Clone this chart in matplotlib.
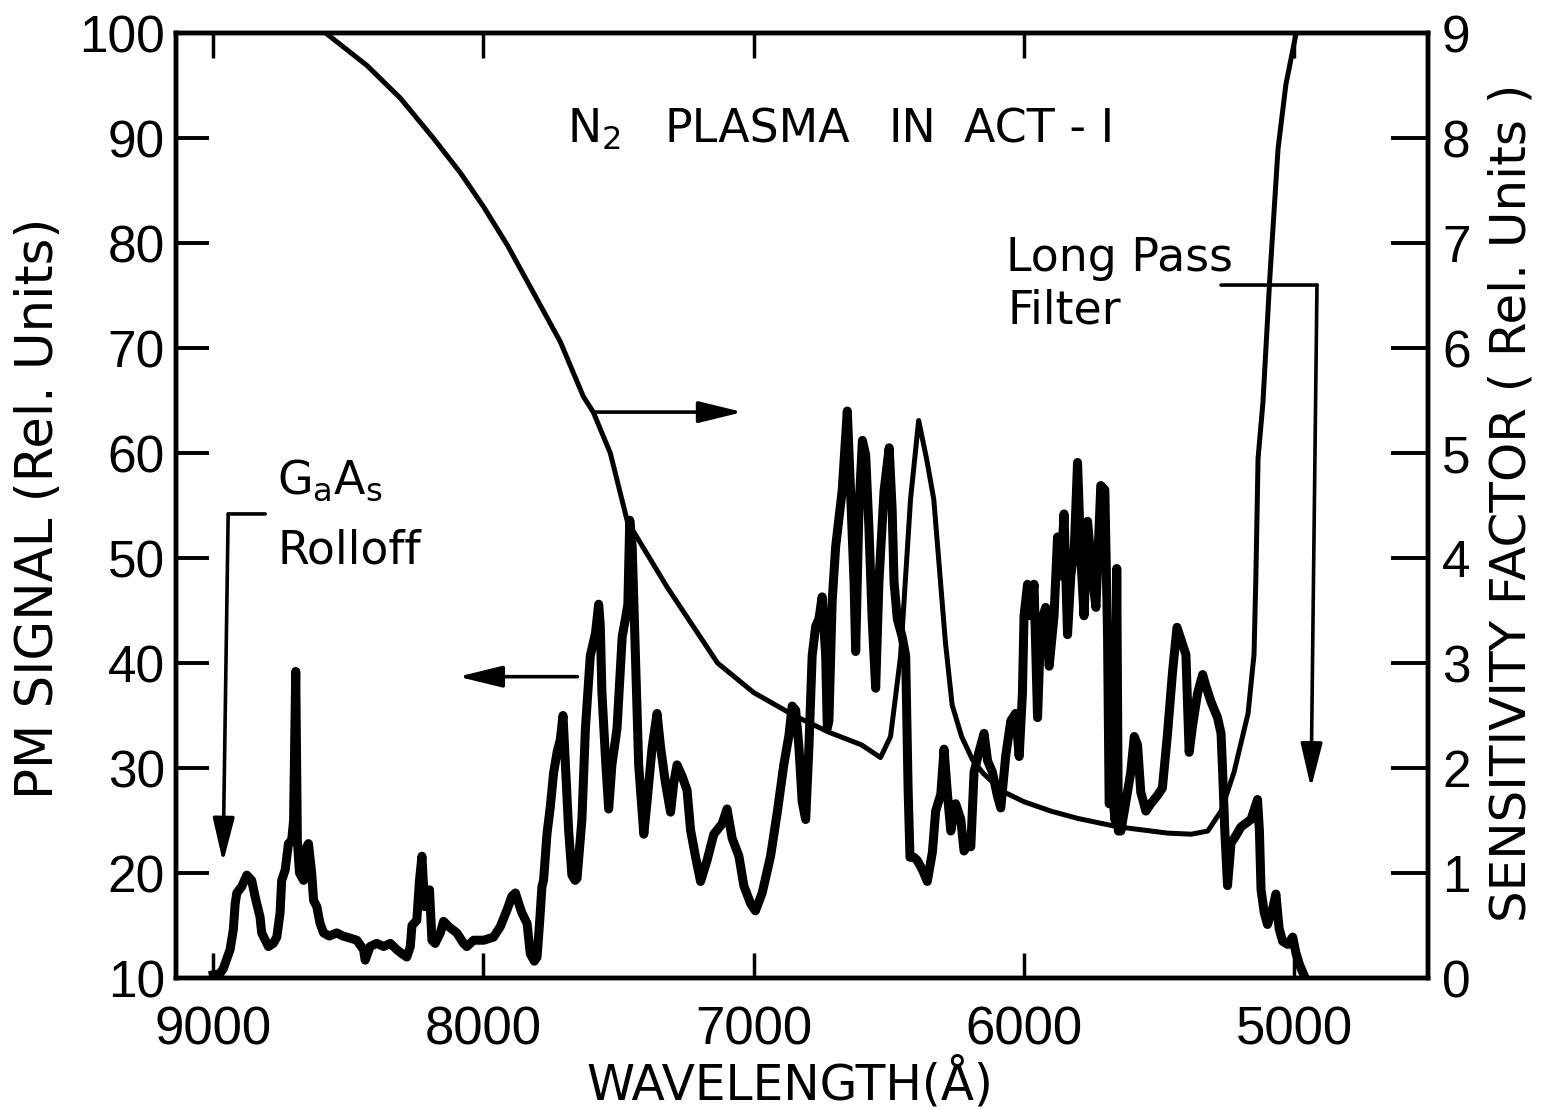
import numpy as np
import matplotlib.pyplot as plt

plt.rcParams['font.family'] = ['DejaVu Sans']

# PM signal (left axis)
wl_signal = [8999, 8975, 8962, 8937, 8925, 8918, 8912, 8894, 8875, 8857, 8844, 8826, 8820,
             8795, 8777, 8764, 8752, 8746, 8733, 8721, 8709, 8702, 8694, 8688, 8680, 8665,
             8653, 8647, 8635, 8628, 8616, 8604, 8591, 8570, 8542, 8520, 8505, 8468, 8443,
             8437, 8419, 8394, 8369, 8344, 8320, 8300, 8283, 8270, 8264, 8246, 8236, 8227,
             8217, 8209, 8199, 8190, 8178, 8159, 8147, 8128, 8098, 8073, 8061, 8036, 7999,
             7962, 7937, 7912, 7894, 7881, 7869, 7857, 7838, 7826, 7811, 7801, 7791, 7783,
             7777, 7764, 7752, 7740, 7727, 7715, 7705, 7696, 7684, 7672, 7660, 7653, 7635,
             7622, 7604, 7585, 7573, 7567, 7561, 7548, 7536, 7524, 7505, 7486, 7474, 7465,
             7458, 7449, 7437, 7425, 7406, 7394, 7375, 7357, 7344, 7326, 7307, 7295, 7283,
             7264, 7246, 7233, 7215, 7196, 7172, 7147, 7116, 7098, 7079, 7054, 7036, 7011,
             6993, 6968, 6937, 6912, 6888, 6869, 6857, 6844, 6832, 6820, 6807, 6795, 6783,
             6770, 6758, 6746, 6733, 6727, 6721, 6709, 6696, 6672, 6653, 6641, 6628, 6622,
             6610, 6597, 6585, 6573, 6561, 6548, 6536, 6517, 6498, 6487, 6480, 6468, 6450,
             6437, 6428, 6421, 6406, 6394, 6375, 6357, 6338, 6326, 6307, 6295, 6283, 6270,
             6252, 6233, 6221, 6203, 6196, 6184, 6166, 6147, 6134, 6116, 6098, 6085, 6067,
             6048, 6030, 6017, 6005, 5999, 5986, 5974, 5962, 5949, 5937, 5919, 5906, 5888,
             5875, 5863, 5851, 5838, 5826, 5813, 5801, 5789, 5777, 5764, 5746, 5733, 5715,
             5700, 5690, 5684, 5672, 5662, 5656, 5650, 5641, 5628, 5604, 5591, 5579, 5567,
             5548, 5530, 5505, 5487, 5468, 5449, 5433, 5419, 5400, 5388, 5375, 5357, 5338,
             5326, 5307, 5283, 5270, 5264, 5256, 5246, 5233, 5221, 5196, 5159, 5135, 5128,
             5122, 5110, 5098, 5079, 5067, 5055, 5042, 5023, 5005, 4993, 4980, 4962]
pm_signal = [10.3, 10.4, 10.9, 12.7, 14.6, 17.1, 18.1, 18.7, 19.8, 19.3, 17.7, 15.8, 14.3,
             13.0, 13.3, 13.9, 16.2, 19.3, 20.3, 22.8, 23.1, 25.0, 39.2, 23.1, 20.0, 19.3,
             22.5, 22.8, 20.0, 17.4, 16.8, 15.2, 14.3, 14.0, 14.3, 14.0, 13.9, 13.6, 12.7,
             11.7, 13.0, 13.3, 13.0, 13.3, 12.7, 12.3, 12.0, 13.0, 15.0, 15.5, 19.3, 21.6,
             16.8, 18.1, 18.4, 13.6, 13.3, 14.3, 15.4, 14.9, 14.3, 13.3, 13.0, 13.6, 13.6,
             13.9, 14.9, 16.5, 17.8, 18.1, 17.1, 16.2, 15.2, 12.3, 11.6, 12.0, 15.5, 18.7,
             19.3, 23.8, 26.3, 29.5, 31.5, 32.7, 35.0, 30.3, 24.0, 19.8, 19.3, 19.5, 25.1,
             33.8, 40.7, 42.8, 45.6, 43.5, 37.2, 31.0, 26.1, 30.3, 33.8, 42.5, 44.2, 45.6,
             53.6, 51.1, 40.7, 30.3, 23.7, 26.8, 32.0, 35.2, 32.0, 28.6, 25.8, 28.6, 30.3,
             29.2, 27.9, 24.1, 21.6, 19.2, 21.2, 23.7, 24.7, 26.1, 23.3, 21.6, 18.8, 17.1,
             16.4, 18.1, 21.6, 25.8, 30.3, 33.1, 35.9, 35.5, 32.0, 26.8, 25.1, 32.0, 40.7,
             43.5, 44.2, 46.3, 40.7, 33.8, 34.5, 45.9, 51.1, 56.4, 64.0, 56.4, 47.7, 41.1,
             54.6, 61.2, 59.8, 52.9, 44.2, 37.6, 47.7, 56.4, 60.5, 54.6, 47.7, 44.2, 42.5,
             40.7, 28.0, 21.5, 21.5, 21.2, 20.3, 19.2, 22.0, 25.9, 27.5, 31.8, 27.7, 24.0,
             26.6, 25.1, 22.1, 22.9, 22.5, 29.6, 31.5, 33.3, 30.7, 29.6, 27.4, 26.2, 31.1,
             34.5, 35.2, 31.1, 37.1, 44.5, 47.5, 44.5, 47.5, 34.8, 43.8, 45.3, 39.7, 44.5,
             52.0, 48.3, 54.2, 42.7, 48.3, 50.9, 59.1, 50.1, 44.5, 53.5, 48.3, 45.3, 56.9,
             56.5, 42.7, 26.6, 27.7, 25.0, 49.0, 24.0, 24.0, 25.9, 29.6, 33.0, 32.2, 27.7,
             25.9, 26.6, 27.4, 28.1, 33.3, 39.3, 43.4, 42.3, 40.8, 31.5, 34.1, 37.1, 38.9,
             37.8, 36.3, 34.8, 33.3, 29.6, 24.0, 18.8, 22.9, 23.3, 24.4, 25.1, 27.0, 24.0,
             18.4, 16.2, 15.1, 16.6, 18.0, 14.7, 13.5, 13.2, 13.9, 12.4, 11.3, 10.2]

# sensitivity factor (right axis)
wl_sens = [8578, 8430, 8307, 8185, 8085, 8000, 7911, 7815, 7715, 7630, 7593, 7530, 7467,
           7319, 7133, 7000, 6850, 6720, 6600, 6530, 6493, 6456, 6419, 6389, 6360, 6333,
           6290, 6265, 6230, 6190, 6150, 6080, 6000, 5900, 5800, 5652, 5467, 5380, 5319,
           5270, 5222, 5170, 5148, 5141, 5133, 5115, 5089, 5059, 5030, 4992]
sens = [8.99, 8.69, 8.38, 8.00, 7.67, 7.35, 6.98, 6.53, 6.06, 5.54, 5.39, 5.00, 4.35,
        3.72, 3.00, 2.72, 2.50, 2.34, 2.22, 2.10, 2.30, 3.06, 4.56, 5.31, 4.95, 4.56,
        3.20, 2.60, 2.30, 2.08, 1.95, 1.78, 1.68, 1.59, 1.52, 1.44, 1.38, 1.37, 1.40,
        1.59, 1.96, 2.52, 3.08, 3.83, 4.95, 5.48, 6.69, 7.90, 8.51, 9.0]

x_ticks = [9000, 8000, 7000, 6000, 5000]
left_ticks = list(range(10, 101, 10))
right_ticks = list(range(0, 10))

fig = plt.figure(figsize=(15.44, 11.09), dpi=100)
ax = fig.add_axes([0.114, 0.1181, 0.8109, 0.8521])
ax2 = ax.twinx()

ax.plot(wl_signal, pm_signal, color='black', lw=6.5, solid_joinstyle='round')
ax2.plot(wl_sens, sens, color='black', lw=3.6)

ax.set_xlim(9137, 4504)
ax.set_ylim(10, 100)
ax2.set_ylim(0, 9)

ax.set_xticks(x_ticks)
ax.set_xticklabels([str(t) for t in x_ticks], fontdict={'family': 'Liberation Sans', 'size': 38})
ax.set_yticks(left_ticks)
ax.set_yticklabels([str(t) for t in left_ticks], fontdict={'family': 'Liberation Sans', 'size': 37})
ax2.set_yticks(right_ticks)
ax2.set_yticklabels([str(t) for t in right_ticks], fontdict={'family': 'Liberation Sans', 'size': 37})

ax.tick_params(axis='x', direction='in', length=18, width=2.5, pad=20, top=True)
ax.tick_params(axis='y', direction='in', length=24, width=2.8, pad=8)
ax2.tick_params(axis='y', direction='in', length=27, width=2.8, pad=10)
for a in (ax, ax2):
    for s in a.spines.values():
        s.set_linewidth(3.2)

ax.set_xlabel('WAVELENGTH(Å)', fontsize=35, va='baseline')
ax.xaxis.set_label_coords(0.490, -0.129)
ax.set_ylabel('PM SIGNAL (Rel. Units)', fontsize=37, va='center')
ax.yaxis.set_label_coords(-0.1094, 0.497)
ax2.set_ylabel('SENSITIVITY FACTOR ( Rel. Units )', fontsize=36, va='center')
ax2.yaxis.set_label_coords(1.0663, 0.503)

# title and notes
note = dict(fontsize=33, ha='left', va='baseline')
ax.text(7689, 89.6, r'N$_\mathregular{2}$', **note)
ax.text(7330, 89.6, 'PLASMA', **note)
ax.text(6500, 89.6, 'IN', **note)
ax.text(6222, 89.6, 'ACT - I', **note)
ax.text(8763, 56.1, r'G$_\mathregular{a}$A$_\mathregular{s}$', **note)
ax.text(8763, 49.5, 'Rolloff', **note)
ax.text(6067, 77.3, 'Long Pass', **note)
ax.text(6060, 72.3, 'Filter', **note)

head = dict(arrowstyle='-|>,head_length=0.9,head_width=0.22', color='black', lw=2.6,
            mutation_scale=30, shrinkA=0, shrinkB=0)
line = dict(arrowstyle='-', color='black', lw=2.6, shrinkA=0, shrinkB=0)
ax.annotate('', xy=(7040, 63.9), xytext=(7593, 63.9), arrowprops=head)
ax.annotate('', xy=(8093, 38.7), xytext=(7652, 38.7), arrowprops=head)
ax.annotate('', xy=(8944, 54.2), xytext=(8807, 54.2), arrowprops=line)
ax.annotate('', xy=(8963, 21.0), xytext=(8944, 54.2), arrowprops=head)
ax.annotate('', xy=(4915, 76.0), xytext=(5270, 76.0), arrowprops=line)
ax.annotate('', xy=(4937, 28.1), xytext=(4915, 76.0), arrowprops=head)

plt.savefig('out.png', dpi=100)
